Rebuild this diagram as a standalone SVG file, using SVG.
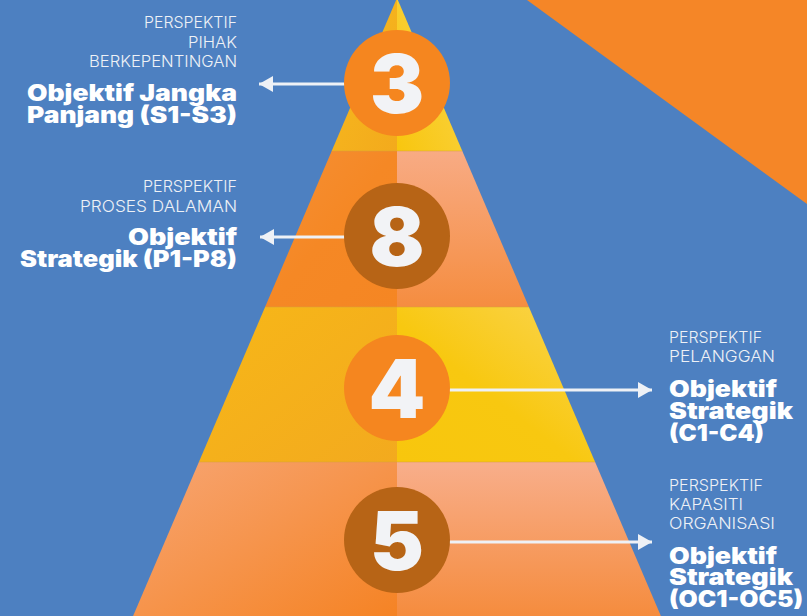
<svg xmlns="http://www.w3.org/2000/svg" width="807" height="616" viewBox="0 0 807 616">
  <defs>
    <linearGradient id="g1L" x1="0" y1="0" x2="1" y2="1"><stop offset="0" stop-color="#F7BA1E"/><stop offset="1" stop-color="#F3AA1C"/></linearGradient>
    <linearGradient id="g1R" x1="0" y1="1" x2="1" y2="0"><stop offset="0" stop-color="#F8C60E"/><stop offset="1" stop-color="#FAD54E"/></linearGradient>
    <linearGradient id="g2L" x1="0" y1="0" x2="1" y2="1"><stop offset="0" stop-color="#F59036"/><stop offset="0.5" stop-color="#F58825"/><stop offset="1" stop-color="#F58623"/></linearGradient>
    <linearGradient id="g2R" x1="0" y1="0" x2="0" y2="1"><stop offset="0" stop-color="#F8AB84"/><stop offset="1" stop-color="#F58D40"/></linearGradient>
    <linearGradient id="g3L" x1="0" y1="0" x2="1" y2="1"><stop offset="0" stop-color="#F7B718"/><stop offset="1" stop-color="#F3AA1E"/></linearGradient>
    <linearGradient id="g3R" x1="0" y1="1" x2="1" y2="0"><stop offset="0" stop-color="#F8C60D"/><stop offset="0.45" stop-color="#F8C810"/><stop offset="1" stop-color="#FAD552"/></linearGradient>
    <linearGradient id="g4L" x1="0" y1="0" x2="1" y2="1"><stop offset="0" stop-color="#F7A573"/><stop offset="1" stop-color="#F58324"/></linearGradient>
    <linearGradient id="g4R" x1="0" y1="0" x2="0" y2="1"><stop offset="0" stop-color="#F8AE8B"/><stop offset="1" stop-color="#F58C3E"/></linearGradient>
    <marker id="ah" viewBox="0 0 14 16" refX="14" refY="8" markerWidth="14" markerHeight="16" markerUnits="userSpaceOnUse" orient="auto">
      <path d="M0,0 L14,8 L0,16 Z" fill="#EEF1F6"/>
    </marker>
  </defs>
  <style>
    .num { font-family: Inter, "Open Sans", "Liberation Sans", sans-serif; font-weight: 900; font-size: 81px; fill: #F2F3F6; text-anchor: middle; }
    .lt { font-family: Inter, "Open Sans", Lato, "Liberation Sans", sans-serif; font-weight: 300; font-size: 16.5px; fill: #EEF1F6; }
    .bd { font-family: Inter, "Open Sans", "Liberation Sans", sans-serif; font-weight: 900; font-size: 22.5px; fill: #FFFFFF; }
    .end { text-anchor: end; }
    .conn { stroke: #EEF1F6; stroke-width: 3; fill: none; marker-end: url(#ah); }
    .sep { stroke: #D9A23A; stroke-width: 1; opacity: 0.5; }
  </style>

  <rect x="0" y="0" width="807" height="616" fill="#4D80C1"/>
  <polygon points="527,0 807,0 807,204" fill="#F58627"/>

  <g id="pyramid">
    <polygon points="397,-2 397,151 331.7,151" fill="url(#g1L)"/>
    <polygon points="397,-2 462.3,151 397,151" fill="url(#g1R)"/>
    <polygon points="331.7,151 397,151 397,307 265.1,307" fill="url(#g2L)"/>
    <polygon points="397,151 462.3,151 528.9,307 397,307" fill="url(#g2R)"/>
    <polygon points="265.1,307 397,307 397,462 198.9,462" fill="url(#g3L)"/>
    <polygon points="397,307 528.9,307 595.1,462 397,462" fill="url(#g3R)"/>
    <polygon points="198.9,462 397,462 397,616 133.1,616" fill="url(#g4L)"/>
    <polygon points="397,462 595.1,462 660.9,616 397,616" fill="url(#g4R)"/>
    <line class="sep" x1="331.7" y1="151" x2="462.3" y2="151"/>
    <line class="sep" x1="265.1" y1="307" x2="528.9" y2="307"/>
    <line class="sep" x1="198.9" y1="462" x2="595.1" y2="462"/>
  </g>

  <g id="connectors">
    <line class="conn" x1="346" y1="84" x2="259" y2="84"/>
    <line class="conn" x1="346" y1="237" x2="260" y2="237"/>
    <line class="conn" x1="449" y1="390" x2="652" y2="390"/>
    <line class="conn" x1="449" y1="542" x2="652" y2="542"/>
  </g>

  <g id="node-3">
    <circle cx="397" cy="83" r="53" fill="#F5861F"/>
    <text class="num" x="397" y="113">3</text>
  </g>
  <g id="node-8">
    <circle cx="397" cy="236" r="53" fill="#B76416"/>
    <text class="num" x="397" y="266">8</text>
  </g>
  <g id="node-4">
    <circle cx="397" cy="388" r="53" fill="#F5861F"/>
    <text class="num" x="397" y="418">4</text>
  </g>
  <g id="node-5">
    <circle cx="397" cy="540" r="53" fill="#B76416"/>
    <text class="num" x="397" y="570">5</text>
  </g>

  <g id="label-stakeholder">
    <text class="lt end" x="237" y="28" textLength="93" lengthAdjust="spacingAndGlyphs">PERSPEKTIF</text>
    <text class="lt end" x="237" y="48" textLength="49" lengthAdjust="spacingAndGlyphs">PIHAK</text>
    <text class="lt end" x="237" y="67" textLength="148" lengthAdjust="spacingAndGlyphs">BERKEPENTINGAN</text>
    <text class="bd end" x="237" y="101" textLength="210" lengthAdjust="spacingAndGlyphs">Objektif Jangka</text>
    <text class="bd end" x="237" y="123" textLength="210" lengthAdjust="spacingAndGlyphs">Panjang (S1-S3)</text>
  </g>
  <g id="label-internal">
    <text class="lt end" x="237" y="192" textLength="94" lengthAdjust="spacingAndGlyphs">PERSPEKTIF</text>
    <text class="lt end" x="237" y="212" textLength="157" lengthAdjust="spacingAndGlyphs">PROSES DALAMAN</text>
    <text class="bd end" x="237" y="245" textLength="109" lengthAdjust="spacingAndGlyphs">Objektif</text>
    <text class="bd end" x="237" y="267" textLength="217" lengthAdjust="spacingAndGlyphs">Strategik (P1-P8)</text>
  </g>
  <g id="label-customer">
    <text class="lt" x="669" y="343" textLength="93" lengthAdjust="spacingAndGlyphs">PERSPEKTIF</text>
    <text class="lt" x="669" y="362" textLength="106" lengthAdjust="spacingAndGlyphs">PELANGGAN</text>
    <text class="bd" x="669" y="397" textLength="108" lengthAdjust="spacingAndGlyphs">Objektif</text>
    <text class="bd" x="669" y="418.5" textLength="124" lengthAdjust="spacingAndGlyphs">Strategik</text>
    <text class="bd" x="669" y="441" textLength="95" lengthAdjust="spacingAndGlyphs">(C1-C4)</text>
  </g>
  <g id="label-capacity">
    <text class="lt" x="669" y="491" textLength="94" lengthAdjust="spacingAndGlyphs">PERSPEKTIF</text>
    <text class="lt" x="669" y="509.5" textLength="74" lengthAdjust="spacingAndGlyphs">KAPASITI</text>
    <text class="lt" x="669" y="528.5" textLength="106" lengthAdjust="spacingAndGlyphs">ORGANISASI</text>
    <text class="bd" x="669" y="563.5" textLength="108" lengthAdjust="spacingAndGlyphs">Objektif</text>
    <text class="bd" x="669" y="585" textLength="124" lengthAdjust="spacingAndGlyphs">Strategik</text>
    <text class="bd" x="669" y="607" textLength="134" lengthAdjust="spacingAndGlyphs">(OC1-OC5)</text>
  </g>
</svg>
